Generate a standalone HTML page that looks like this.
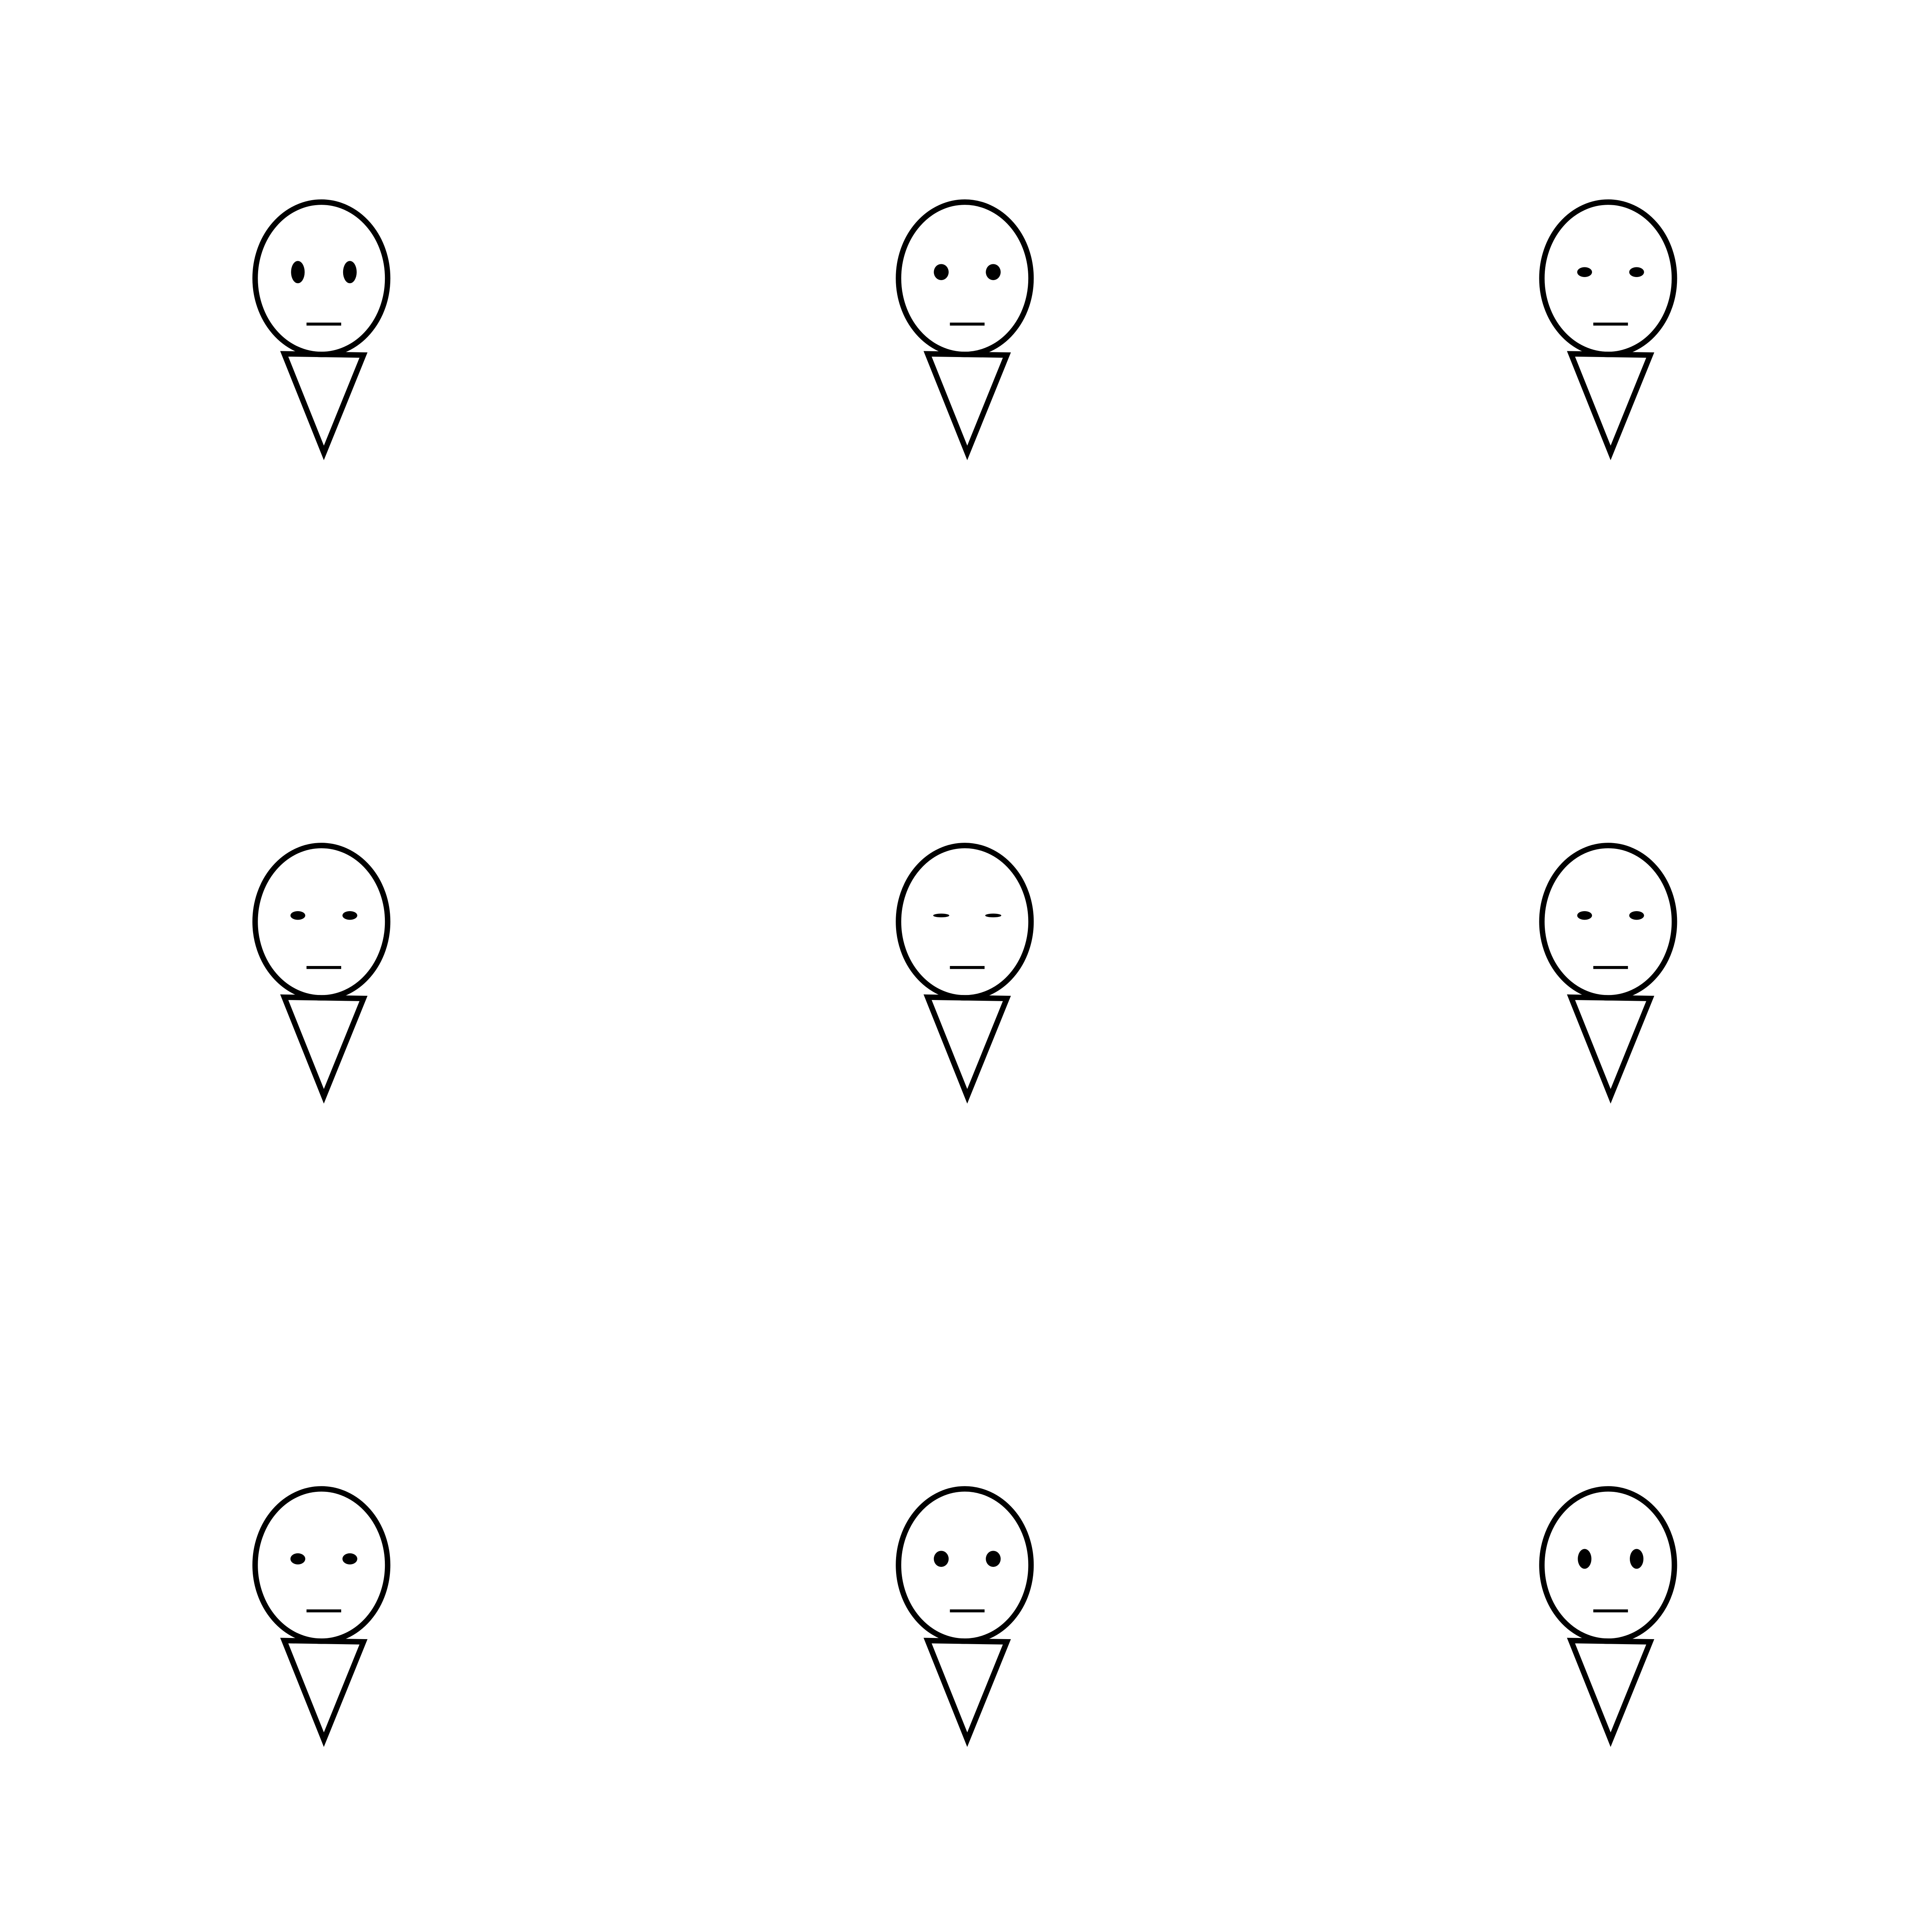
<!DOCTYPE html>
<html><head><meta charset="utf-8"><style>html,body{margin:0;padding:0;background:#fff;overflow:hidden;width:100%;height:100%}svg{display:block;width:100vw;height:100vh}</style></head>
<body>
<svg id="chart" viewBox="0 0 1560 1560" preserveAspectRatio="xMinYMin meet" xmlns="http://www.w3.org/2000/svg">
<rect width="1560" height="1560" fill="#fff"/>
</svg>
<script>
const faceCols = [0, 1, 2, 0, 1, 2, 0, 1, 2];
const faceRows = [0, 0, 0, 1, 1, 1, 2, 2, 2];
const eyeHeights = [9, 6.5, 4, 3.5, 1.5, 3.5, 4.5, 6.5, 8];
const eyeWidths = [5.5, 6, 6, 6, 6.5, 6, 6, 6, 5.5];

const svg = document.getElementById('chart');
const NS = 'http://www.w3.org/2000/svg';
const xScale = c => 259.5 + c * 519.5;
const yScale = r => 224.7 + r * 519.5;
function mk(tag, attrs, parent) {
  const e = document.createElementNS(NS, tag);
  for (const k in attrs) e.setAttribute(k, attrs[k]);
  parent.appendChild(e);
  return e;
}
for (let i = 0; i < faceCols.length; i++) {
  const cx = xScale(faceCols[i]), cy = yScale(faceRows[i]);
  const g = mk('g', {}, svg);
  
  
  const head = mk('ellipse', {cx: cx, cy: cy, rx: 53.5, ry: 61.5, fill: 'none', stroke: '#000', 'stroke-width': 4.4}, g);
  
  
  const body = mk('polygon', {points: `${cx-30},${cy+61} ${cx+34},${cy+62} ${cx+2},${cy+141}`, fill: 'none', stroke: '#000', 'stroke-width': 4.4}, g);
  
  
  const le = mk('ellipse', {cx: cx - 19, cy: cy - 5, rx: eyeWidths[i], ry: eyeHeights[i], fill: '#000'}, g);
  
  
  const re = mk('ellipse', {cx: cx + 23, cy: cy - 5, rx: eyeWidths[i], ry: eyeHeights[i], fill: '#000'}, g);
  
  
  const m = mk('line', {x1: cx - 12, y1: cy + 37, x2: cx + 16, y2: cy + 37, stroke: '#000', 'stroke-width': 2.4}, g);
  
  
}
</script>
</body></html>
